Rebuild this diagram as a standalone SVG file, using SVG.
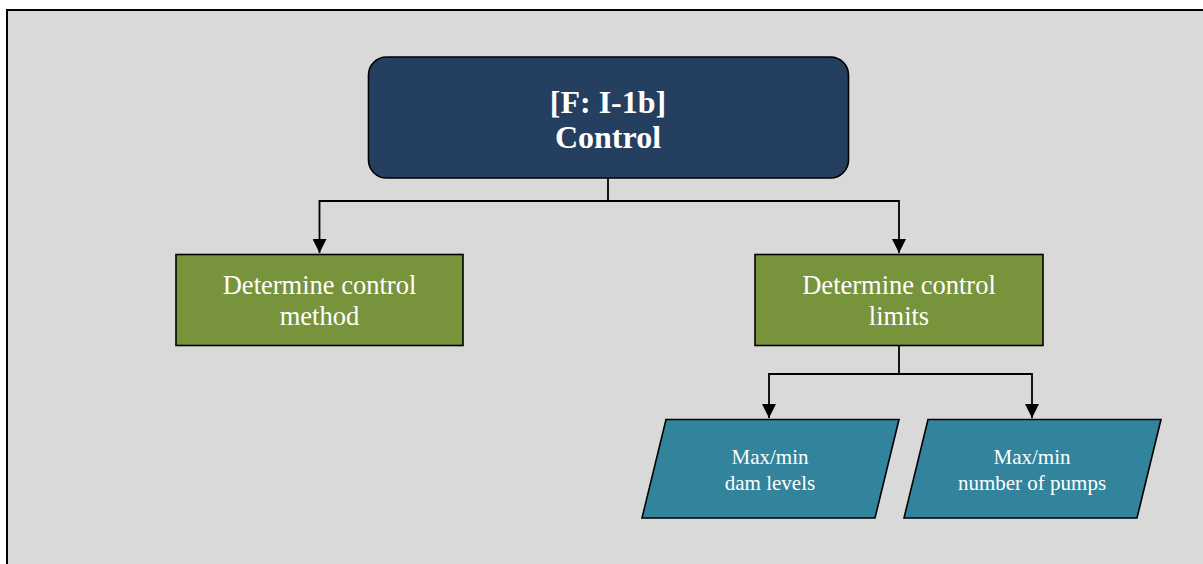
<svg xmlns="http://www.w3.org/2000/svg" width="1203" height="564" viewBox="0 0 1203 564">
  <style>
    .conn { fill: none; stroke: #000; stroke-width: 1.8; }
    .root { fill: #243f60; stroke: #000; stroke-width: 1.6; }
    .task { fill: #77933c; stroke: #000; stroke-width: 1.6; }
    .data { fill: #31849b; stroke: #000; stroke-width: 1.6; }
    .t-root { font-family: "Liberation Serif", "Times New Roman", serif; font-size: 32px; font-weight: bold; fill: #fff; text-anchor: middle; }
    .t-task { font-family: "Liberation Serif", "Times New Roman", serif; font-size: 26.5px; fill: #fff; text-anchor: middle; }
    .t-data { font-family: "Liberation Serif", "Times New Roman", serif; font-size: 21px; fill: #fff; text-anchor: middle; }
  </style>
  <defs>
    <marker id="arrow" viewBox="0 0 14 14" refX="14" refY="7" markerWidth="14" markerHeight="14" markerUnits="userSpaceOnUse" orient="auto">
      <path d="M0,0 L14,7 L0,14 Z" fill="#000"/>
    </marker>
  </defs>

  <!-- page background and frame -->
  <rect x="0" y="0" width="1203" height="564" fill="#fff"/>
  <rect x="7" y="10" width="1210" height="570" fill="#d9d9d9" stroke="#000" stroke-width="2"/>

  <!-- connectors -->
  <g id="connectors">
    <path class="conn" d="M608,178 V201 H319.5 V253" marker-end="url(#arrow)"/>
    <path class="conn" d="M608,201 H899 V253" marker-end="url(#arrow)"/>
    <path class="conn" d="M899,345 V374 H769 V418" marker-end="url(#arrow)"/>
    <path class="conn" d="M899,374 H1032 V418" marker-end="url(#arrow)"/>
  </g>

  <g id="node-control">
    <rect class="root" x="368.5" y="57" width="480" height="121" rx="18" ry="18"/>
    <text class="t-root" x="608" y="113">[F: I-1b]</text>
    <text class="t-root" x="608" y="148">Control</text>
  </g>

  <g id="node-method">
    <rect class="task" x="176" y="254.5" width="287" height="91"/>
    <text class="t-task" x="319.5" y="294">Determine control</text>
    <text class="t-task" x="319.5" y="325">method</text>
  </g>

  <g id="node-limits">
    <rect class="task" x="755" y="254.5" width="288" height="91"/>
    <text class="t-task" x="899" y="294">Determine control</text>
    <text class="t-task" x="899" y="325">limits</text>
  </g>

  <g id="node-dam-levels">
    <polygon class="data" points="666,419.5 899,419.5 875,518 642,518"/>
    <text class="t-data" x="770" y="464">Max/min</text>
    <text class="t-data" x="770" y="490">dam levels</text>
  </g>

  <g id="node-pumps">
    <polygon class="data" points="928,419.5 1161,419.5 1137,518 904,518"/>
    <text class="t-data" x="1032" y="464">Max/min</text>
    <text class="t-data" x="1032" y="490">number of pumps</text>
  </g>
</svg>
